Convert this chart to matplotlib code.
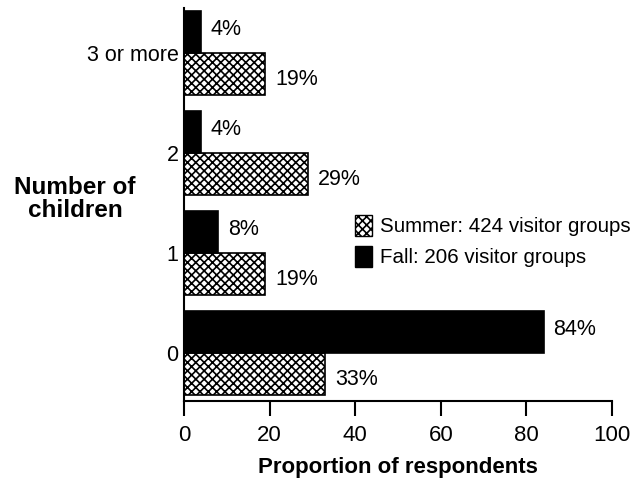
import matplotlib
matplotlib.use("Agg")
import matplotlib.pyplot as plt
import numpy as np
from matplotlib.patches import Patch

categories = ["0", "1", "2", "3 or more"]
summer = [33, 19, 29, 19]
fall = [84, 8, 4, 4]
summer_label = "Summer: 424 visitor groups"
fall_label = "Fall: 206 visitor groups"
xticks = [0, 20, 40, 60, 80, 100]

plt.rcParams['font.family'] = ['Liberation Sans', 'DejaVu Sans']
plt.rcParams['hatch.linewidth'] = 1.2

fig = plt.figure(figsize=(6.39, 4.82), dpi=100)
ax = fig.add_axes([184/639, (482-401)/482, (612-184)/639, (401-8)/482])

y = np.arange(len(categories))
h = 0.42
ax.barh(y - h/2, summer, height=h, color='white', edgecolor='black',
        hatch='xxxx', linewidth=1.2)
ax.barh(y + h/2, fall, height=h, color='black', edgecolor='black', linewidth=1.2)

for yi, v in zip(y, summer):
    ax.annotate(f"{v}%", (v, yi - h/2), xytext=(7, -4), textcoords='offset points',
                ha='left', va='center', fontsize=15.5)
for yi, v in zip(y, fall):
    ax.annotate(f"{v}%", (v, yi + h/2), xytext=(7, 2), textcoords='offset points',
                ha='left', va='center', fontsize=15.5)

ax.set_xlim(0, 100)
ax.set_ylim(-0.48, 3.45)
ax.set_xticks(xticks)
ax.set_xticklabels([str(t) for t in xticks], fontsize=16)
ax.set_yticks(y)
ax.set_yticklabels(categories, fontsize=15.5)
ax.tick_params(axis='x', length=11, width=1.5, direction='out', pad=6)
ax.tick_params(axis='y', length=0, pad=4)
for s in ['top', 'right']:
    ax.spines[s].set_visible(False)
for s in ['left', 'bottom']:
    ax.spines[s].set_linewidth(1.5)

ax.set_xlabel("Proportion of respondents", fontsize=16, fontweight='bold', labelpad=8)
fig.text(75/639, 1 - 199/482, "Number of\nchildren", fontsize=17.5, fontweight='bold',
         ha='center', va='center', linespacing=1.05)

handles = [Patch(facecolor='white', edgecolor='black', hatch='xxxx', label=summer_label),
           Patch(facecolor='black', edgecolor='black', label=fall_label)]
ax.legend(handles=handles, loc='center left', bbox_to_anchor=(355/639, 1 - 241/482),
          bbox_transform=fig.transFigure, frameon=False, fontsize=14.8,
          handlelength=0.85, handleheight=1.2, handletextpad=0.35, labelspacing=0.45,
          borderaxespad=0, borderpad=0)

fig.savefig("out.png", dpi=100)
